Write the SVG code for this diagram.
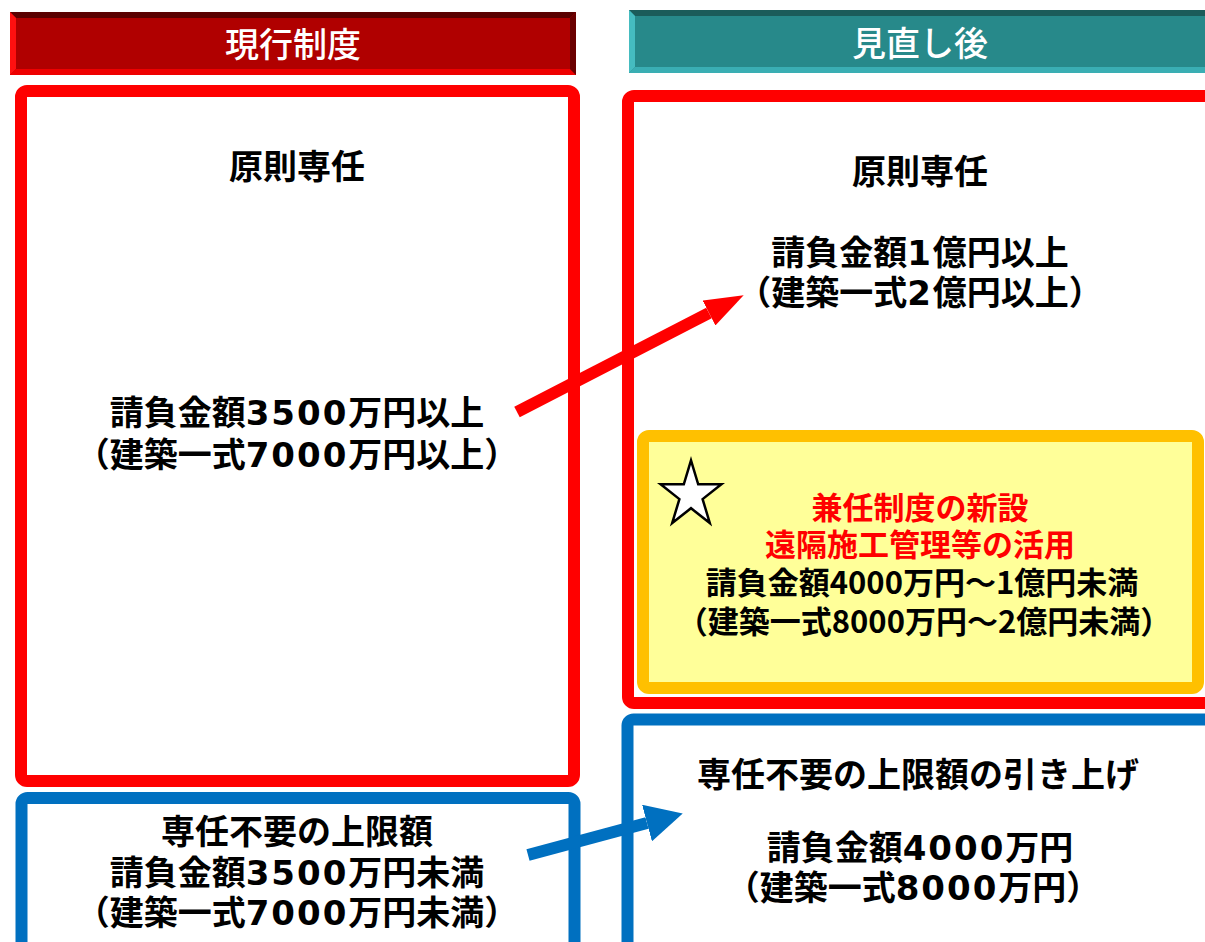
<svg xmlns="http://www.w3.org/2000/svg" width="1205" height="942" viewBox="0 0 1205 942">
<style>
.t{font-family:"Noto Sans CJK JP","Noto Sans CJK SC",sans-serif;text-anchor:middle;fill:#000;font-size:34px;font-weight:bold}
.h{fill:#fff;font-size:34px;font-weight:500}
.y{font-size:31px}
.r{fill:#ff0000}
.d{font-family:"DejaVu Sans",sans-serif;font-size:34px;font-weight:bold;letter-spacing:2px}
.red{fill:none;stroke:#ff0000;stroke-width:12}
.blue{fill:#fff;stroke:#0070c0;stroke-width:12}
.yel{fill:#ffff99;stroke:#ffc000;stroke-width:12}
</style>
<defs>
<marker id="ahR" markerUnits="userSpaceOnUse" markerWidth="40" markerHeight="28" refX="0" refY="14" orient="auto"><path d="M0,0 L39,14 L0,28 z" fill="#ff0000"/></marker>
<marker id="ahB" markerUnits="userSpaceOnUse" markerWidth="40" markerHeight="38" refX="0" refY="19" orient="auto"><path d="M0,0 L37,19 L0,38 z" fill="#0070c0"/></marker>
</defs>
<rect width="1205" height="942" fill="#fff"/>
<g id="header-current">
<rect x="10" y="12" width="566" height="63" fill="#b00000"/>
<polygon points="10,12 576,12 570,18 16,18" fill="#5a0000"/>
<polygon points="10,12 16,18 16,69 10,75" fill="#ff1010"/>
<polygon points="10,75 16,69 570,69 576,75" fill="#ee0000"/>
<polygon points="576,12 576,75 570,69 570,18" fill="#6a0000"/>
<text class="t h" x="293" y="57">現行制度</text>
</g>
<g id="header-revised">
<rect x="629" y="10" width="580" height="63" fill="#27898a"/>
<polygon points="629,10 1210,10 1210,16 635,16" fill="#1b5c5a"/>
<polygon points="629,10 635,16 635,67 629,73" fill="#45bcc0"/>
<polygon points="629,73 635,67 1210,67 1210,73" fill="#3aaeb3"/>
<text class="t h" x="920" y="56">見直し後</text>
</g>
<g id="box-current-main">
<rect class="red" x="21" y="91" width="553" height="690" rx="6"/>
<text class="t" x="297" y="179">原則専任</text>
<text class="t" x="297" y="425">請負金額<tspan class="d">3500</tspan>万円以上</text>
<text class="t" x="297" y="467">（建築一式<tspan class="d">7000</tspan>万円以上）</text>
</g>
<g id="box-current-exempt">
<rect class="blue" x="21.5" y="798" width="553" height="170" rx="6"/>
<text class="t" x="297" y="844">専任不要の上限額</text>
<text class="t" x="297" y="885">請負金額<tspan class="d">3500</tspan>万円未満</text>
<text class="t" x="297" y="925">（建築一式<tspan class="d">7000</tspan>万円未満）</text>
</g>
<g id="box-revised-main">
<rect class="red" x="628" y="96" width="600" height="607" rx="6"/>
<text class="t" x="920" y="184">原則専任</text>
<text class="t" x="920" y="265">請負金額<tspan class="d">1</tspan>億円以上</text>
<text class="t" x="920" y="305">（建築一式<tspan class="d">2</tspan>億円以上）</text>
</g>
<g id="box-concurrent">
<rect class="yel" x="643" y="436" width="555" height="252" rx="6"/>
<polygon points="691,460.4 698.2,484.3 721.4,484.3 702.6,499.1 709.8,523 691,508.2 672.2,523 679.4,499.1 660.6,484.3 683.8,484.3" fill="#fff" stroke="#000" stroke-width="2.5" stroke-linejoin="miter"/>
<text class="t y r" x="920" y="519">兼任制度の新設</text>
<text class="t y r" x="920" y="556">遠隔施工管理等の活用</text>
<text class="t y" x="922" y="594">請負金額4000万円～1億円未満</text>
<text class="t y" x="924" y="633">（建築一式8000万円～2億円未満）</text>
</g>
<g id="box-revised-exempt">
<rect class="blue" x="627.5" y="719.5" width="600" height="240" rx="6"/>
<text class="t" x="918" y="787">専任不要の上限額の引き上げ</text>
<text class="t" x="920" y="860">請負金額<tspan class="d">4000</tspan>万円</text>
<text class="t" x="913" y="900">（建築一式<tspan class="d">8000</tspan>万円）</text>
</g>
<g id="connectors">
<line x1="517" y1="412" x2="709" y2="313" stroke="#ff0000" stroke-width="12" marker-end="url(#ahR)"/>
<line x1="528" y1="855" x2="647" y2="823" stroke="#0070c0" stroke-width="12" marker-end="url(#ahB)"/>
</g>
</svg>
